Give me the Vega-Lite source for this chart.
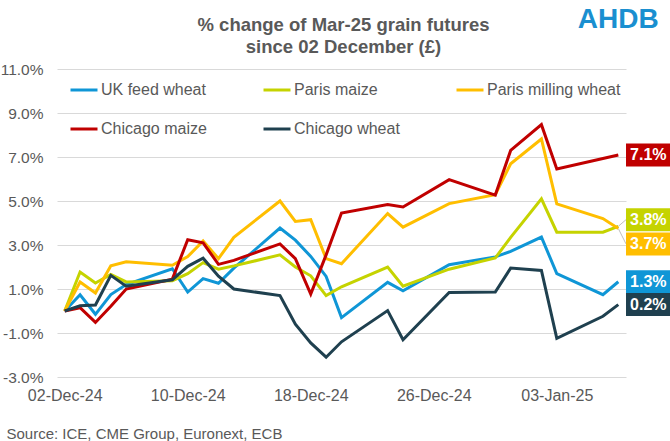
{
  "$schema": "https://vega.github.io/schema/vega-lite/v6.json",
  "width": 569,
  "height": 308,
  "autosize": {"type": "none"},
  "padding": {"left": 57, "top": 69, "right": 44, "bottom": 64},
  "background": "white",
  "config": {"view": {"stroke": null}, "font": "Liberation Sans"},
  "title": {
    "text": ["% change of Mar-25 grain futures", "since 02 December (£)"],
    "fontSize": 18.5,
    "fontWeight": "bold",
    "color": "#595959",
    "font": "Liberation Sans",
    "anchor": "middle",
    "offset": -50,
    "lineHeight": 22,
    "dx": 2
  },
  "datasets": {
    "prices": [
      {"date": "2024-12-02", "series": "UK feed wheat", "value": 0},
      {"date": "2024-12-03", "series": "UK feed wheat", "value": 0.74},
      {"date": "2024-12-04", "series": "UK feed wheat", "value": -0.15},
      {"date": "2024-12-05", "series": "UK feed wheat", "value": 0.75},
      {"date": "2024-12-06", "series": "UK feed wheat", "value": 1.2},
      {"date": "2024-12-09", "series": "UK feed wheat", "value": 1.92},
      {"date": "2024-12-10", "series": "UK feed wheat", "value": 0.86},
      {"date": "2024-12-11", "series": "UK feed wheat", "value": 1.47},
      {"date": "2024-12-12", "series": "UK feed wheat", "value": 1.26},
      {"date": "2024-12-13", "series": "UK feed wheat", "value": 1.95},
      {"date": "2024-12-16", "series": "UK feed wheat", "value": 3.77},
      {"date": "2024-12-17", "series": "UK feed wheat", "value": 3.22},
      {"date": "2024-12-18", "series": "UK feed wheat", "value": 2.48},
      {"date": "2024-12-19", "series": "UK feed wheat", "value": 1.57},
      {"date": "2024-12-20", "series": "UK feed wheat", "value": -0.3},
      {"date": "2024-12-23", "series": "UK feed wheat", "value": 1.3},
      {"date": "2024-12-24", "series": "UK feed wheat", "value": 0.92},
      {"date": "2024-12-27", "series": "UK feed wheat", "value": 2.1},
      {"date": "2024-12-30", "series": "UK feed wheat", "value": 2.46},
      {"date": "2024-12-31", "series": "UK feed wheat", "value": 2.71},
      {"date": "2025-01-02", "series": "UK feed wheat", "value": 3.36},
      {"date": "2025-01-03", "series": "UK feed wheat", "value": 1.7},
      {"date": "2025-01-06", "series": "UK feed wheat", "value": 0.74},
      {"date": "2025-01-07", "series": "UK feed wheat", "value": 1.33},
      {"date": "2024-12-02", "series": "Paris maize", "value": 0},
      {"date": "2024-12-03", "series": "Paris maize", "value": 1.77},
      {"date": "2024-12-04", "series": "Paris maize", "value": 1.27},
      {"date": "2024-12-05", "series": "Paris maize", "value": 1.66},
      {"date": "2024-12-06", "series": "Paris maize", "value": 1.32},
      {"date": "2024-12-09", "series": "Paris maize", "value": 1.38},
      {"date": "2024-12-10", "series": "Paris maize", "value": 1.7},
      {"date": "2024-12-11", "series": "Paris maize", "value": 2.2},
      {"date": "2024-12-12", "series": "Paris maize", "value": 1.9},
      {"date": "2024-12-13", "series": "Paris maize", "value": 2.05},
      {"date": "2024-12-16", "series": "Paris maize", "value": 2.55},
      {"date": "2024-12-17", "series": "Paris maize", "value": 2.0},
      {"date": "2024-12-18", "series": "Paris maize", "value": 1.6},
      {"date": "2024-12-19", "series": "Paris maize", "value": 0.7},
      {"date": "2024-12-20", "series": "Paris maize", "value": 1.1},
      {"date": "2024-12-23", "series": "Paris maize", "value": 2.0},
      {"date": "2024-12-24", "series": "Paris maize", "value": 1.13},
      {"date": "2024-12-27", "series": "Paris maize", "value": 1.9},
      {"date": "2024-12-30", "series": "Paris maize", "value": 2.41},
      {"date": "2024-12-31", "series": "Paris maize", "value": 3.35},
      {"date": "2025-01-02", "series": "Paris maize", "value": 5.1},
      {"date": "2025-01-03", "series": "Paris maize", "value": 3.58},
      {"date": "2025-01-06", "series": "Paris maize", "value": 3.58},
      {"date": "2025-01-07", "series": "Paris maize", "value": 3.85},
      {"date": "2024-12-02", "series": "Paris milling wheat", "value": 0},
      {"date": "2024-12-03", "series": "Paris milling wheat", "value": 1.32},
      {"date": "2024-12-04", "series": "Paris milling wheat", "value": 0.82},
      {"date": "2024-12-05", "series": "Paris milling wheat", "value": 2.06},
      {"date": "2024-12-06", "series": "Paris milling wheat", "value": 2.24},
      {"date": "2024-12-09", "series": "Paris milling wheat", "value": 2.08},
      {"date": "2024-12-10", "series": "Paris milling wheat", "value": 2.47},
      {"date": "2024-12-11", "series": "Paris milling wheat", "value": 3.18},
      {"date": "2024-12-12", "series": "Paris milling wheat", "value": 2.38},
      {"date": "2024-12-13", "series": "Paris milling wheat", "value": 3.35},
      {"date": "2024-12-16", "series": "Paris milling wheat", "value": 5.0},
      {"date": "2024-12-17", "series": "Paris milling wheat", "value": 4.07},
      {"date": "2024-12-18", "series": "Paris milling wheat", "value": 4.15},
      {"date": "2024-12-19", "series": "Paris milling wheat", "value": 2.38},
      {"date": "2024-12-20", "series": "Paris milling wheat", "value": 2.15},
      {"date": "2024-12-23", "series": "Paris milling wheat", "value": 4.43},
      {"date": "2024-12-24", "series": "Paris milling wheat", "value": 3.81},
      {"date": "2024-12-27", "series": "Paris milling wheat", "value": 4.88},
      {"date": "2024-12-30", "series": "Paris milling wheat", "value": 5.29},
      {"date": "2024-12-31", "series": "Paris milling wheat", "value": 6.69},
      {"date": "2025-01-02", "series": "Paris milling wheat", "value": 7.82},
      {"date": "2025-01-03", "series": "Paris milling wheat", "value": 4.87},
      {"date": "2025-01-06", "series": "Paris milling wheat", "value": 4.2},
      {"date": "2025-01-07", "series": "Paris milling wheat", "value": 3.75},
      {"date": "2024-12-02", "series": "Chicago maize", "value": 0},
      {"date": "2024-12-03", "series": "Chicago maize", "value": 0.15},
      {"date": "2024-12-04", "series": "Chicago maize", "value": -0.52},
      {"date": "2024-12-05", "series": "Chicago maize", "value": 0.22},
      {"date": "2024-12-06", "series": "Chicago maize", "value": 1.0},
      {"date": "2024-12-09", "series": "Chicago maize", "value": 1.45},
      {"date": "2024-12-10", "series": "Chicago maize", "value": 3.24},
      {"date": "2024-12-11", "series": "Chicago maize", "value": 3.1},
      {"date": "2024-12-12", "series": "Chicago maize", "value": 2.12},
      {"date": "2024-12-13", "series": "Chicago maize", "value": 2.3},
      {"date": "2024-12-16", "series": "Chicago maize", "value": 3.05},
      {"date": "2024-12-17", "series": "Chicago maize", "value": 2.38},
      {"date": "2024-12-18", "series": "Chicago maize", "value": 0.77},
      {"date": "2024-12-19", "series": "Chicago maize", "value": 2.55},
      {"date": "2024-12-20", "series": "Chicago maize", "value": 4.45},
      {"date": "2024-12-23", "series": "Chicago maize", "value": 4.84},
      {"date": "2024-12-24", "series": "Chicago maize", "value": 4.73},
      {"date": "2024-12-27", "series": "Chicago maize", "value": 5.97},
      {"date": "2024-12-30", "series": "Chicago maize", "value": 5.27},
      {"date": "2024-12-31", "series": "Chicago maize", "value": 7.3},
      {"date": "2025-01-02", "series": "Chicago maize", "value": 8.47},
      {"date": "2025-01-03", "series": "Chicago maize", "value": 6.46},
      {"date": "2025-01-06", "series": "Chicago maize", "value": 6.93},
      {"date": "2025-01-07", "series": "Chicago maize", "value": 7.09},
      {"date": "2024-12-02", "series": "Chicago wheat", "value": 0},
      {"date": "2024-12-03", "series": "Chicago wheat", "value": 0.24},
      {"date": "2024-12-04", "series": "Chicago wheat", "value": 0.27},
      {"date": "2024-12-05", "series": "Chicago wheat", "value": 1.62},
      {"date": "2024-12-06", "series": "Chicago wheat", "value": 1.13},
      {"date": "2024-12-09", "series": "Chicago wheat", "value": 1.42},
      {"date": "2024-12-10", "series": "Chicago wheat", "value": 2.03},
      {"date": "2024-12-11", "series": "Chicago wheat", "value": 2.4},
      {"date": "2024-12-12", "series": "Chicago wheat", "value": 1.58},
      {"date": "2024-12-13", "series": "Chicago wheat", "value": 1.0},
      {"date": "2024-12-16", "series": "Chicago wheat", "value": 0.7},
      {"date": "2024-12-17", "series": "Chicago wheat", "value": -0.6},
      {"date": "2024-12-18", "series": "Chicago wheat", "value": -1.45},
      {"date": "2024-12-19", "series": "Chicago wheat", "value": -2.1},
      {"date": "2024-12-20", "series": "Chicago wheat", "value": -1.4},
      {"date": "2024-12-23", "series": "Chicago wheat", "value": 0.02},
      {"date": "2024-12-24", "series": "Chicago wheat", "value": -1.31},
      {"date": "2024-12-27", "series": "Chicago wheat", "value": 0.84},
      {"date": "2024-12-30", "series": "Chicago wheat", "value": 0.86},
      {"date": "2024-12-31", "series": "Chicago wheat", "value": 1.95},
      {"date": "2025-01-02", "series": "Chicago wheat", "value": 1.84},
      {"date": "2025-01-03", "series": "Chicago wheat", "value": -1.24},
      {"date": "2025-01-06", "series": "Chicago wheat", "value": -0.24},
      {"date": "2025-01-07", "series": "Chicago wheat", "value": 0.29}
    ],
    "ends": [
      {"date": "2025-01-07", "series": "Chicago maize", "value": 7.09, "label": "7.1%"},
      {"date": "2025-01-07", "series": "Paris maize", "value": 3.85, "label": "3.8%"},
      {"date": "2025-01-07", "series": "Paris milling wheat", "value": 3.75, "label": "3.7%"},
      {"date": "2025-01-07", "series": "UK feed wheat", "value": 1.33, "label": "1.3%"},
      {"date": "2025-01-07", "series": "Chicago wheat", "value": 0.29, "label": "0.2%"}
    ]
  },
  "layer": [
    {
      "data": {"name": "prices"},
      "mark": {"type": "line", "strokeWidth": 3},
      "encoding": {
        "x": {
          "field": "date",
          "type": "temporal",
          "scale": {
            "type": "utc",
            "domain": [
              {"year": 2024, "month": 12, "date": 1, "hours": 12, "utc": true},
              {"year": 2025, "month": 1, "date": 7, "hours": 12, "utc": true}
            ]
          },
          "axis": {
            "values": [
              {"year": 2024, "month": 12, "date": 2, "utc": true},
              {"year": 2024, "month": 12, "date": 10, "utc": true},
              {"year": 2024, "month": 12, "date": 18, "utc": true},
              {"year": 2024, "month": 12, "date": 26, "utc": true},
              {"year": 2025, "month": 1, "date": 3, "utc": true}
            ],
            "format": "%d-%b-%y",
            "grid": false,
            "domain": false,
            "ticks": false,
            "labelPadding": 10,
            "labelFontSize": 16,
            "labelColor": "#595959",
            "labelFont": "Liberation Sans",
            "title": "Source: ICE, CME Group, Euronext, ECB",
            "titleAnchor": "start",
            "titleAlign": "left",
            "titleX": -51,
            "titleY": 61,
            "titleBaseline": "alphabetic",
            "titleFontSize": 15,
            "titleFontWeight": "normal",
            "titleColor": "#595959",
            "titleFont": "Liberation Sans"
          }
        },
        "y": {
          "field": "value",
          "type": "quantitative",
          "scale": {"domain": [-3, 11], "nice": false, "zero": false},
          "axis": {
            "values": [-3, -1, 1, 3, 5, 7, 9, 11],
            "labelExpr": "(datum.value < 0 ? '-' : '') + format(abs(datum.value), '.1f') + '%'",
            "grid": true,
            "gridColor": "#d9d9d9",
            "gridWidth": 1,
            "domain": false,
            "ticks": false,
            "labelPadding": 14,
            "labelFontSize": 15.5,
            "labelColor": "#595959",
            "labelFont": "Liberation Sans",
            "title": null
          }
        },
        "color": {
          "field": "series",
          "type": "nominal",
          "scale": {
            "domain": ["UK feed wheat", "Paris maize", "Paris milling wheat", "Chicago maize", "Chicago wheat"],
            "range": ["#0f96d6", "#c5d300", "#ffbe00", "#c00000", "#1f404f"]
          },
          "legend": {
            "title": null,
            "orient": "none",
            "legendX": 12,
            "legendY": 6,
            "direction": "horizontal",
            "columns": 3,
            "gridAlign": "all",
            "columnPadding": 22,
            "rowPadding": 16,
            "symbolType": "stroke",
            "symbolSize": 729,
            "symbolStrokeWidth": 3,
            "labelFontSize": 16,
            "labelColor": "#595959",
            "labelFont": "Liberation Sans",
            "labelOffset": 2,
            "padding": 0
          }
        }
      }
    },
    {
      "data": {"name": "ends"},
      "transform": [{"filter": "datum.series === 'Paris maize'"}],
      "mark": {"type": "rule", "color": "#bfbfbf", "strokeWidth": 1, "x2Offset": 7.7, "y2Offset": -6.6},
      "encoding": {
        "x": {"field": "date", "type": "temporal"},
        "x2": {"field": "date"},
        "y": {"field": "value", "type": "quantitative"},
        "y2": {"field": "value"}
      }
    },
    {
      "data": {"name": "ends"},
      "transform": [{"filter": "datum.series === 'Paris milling wheat'"}],
      "mark": {"type": "rule", "color": "#bfbfbf", "strokeWidth": 1, "x2Offset": 7.7, "y2Offset": 15.4},
      "encoding": {
        "x": {"field": "date", "type": "temporal"},
        "x2": {"field": "date"},
        "y": {"field": "value", "type": "quantitative"},
        "y2": {"field": "value"}
      }
    },
    {
      "data": {"name": "ends"},
      "transform": [{"filter": "datum.series !== 'Paris maize' && datum.series !== 'Paris milling wheat'"}],
      "mark": {"type": "rect", "xOffset": 7.7, "x2Offset": 56, "yOffset": -11.5, "y2Offset": 11.5},
      "encoding": {
        "x": {"field": "date", "type": "temporal"},
        "x2": {"field": "date"},
        "y": {"field": "value", "type": "quantitative"},
        "y2": {"field": "value"},
        "fill": {
          "field": "series",
          "type": "nominal",
          "legend": null,
          "scale": {
            "domain": ["UK feed wheat", "Paris maize", "Paris milling wheat", "Chicago maize", "Chicago wheat"],
            "range": ["#0f96d6", "#c5d300", "#ffbe00", "#c00000", "#1f404f"]
          }
        }
      }
    },
    {
      "data": {"name": "ends"},
      "transform": [{"filter": "datum.series === 'Paris maize'"}],
      "mark": {"type": "rect", "xOffset": 7.7, "x2Offset": 56, "yOffset": -18.1, "y2Offset": 4.9},
      "encoding": {
        "x": {"field": "date", "type": "temporal"},
        "x2": {"field": "date"},
        "y": {"field": "value", "type": "quantitative"},
        "y2": {"field": "value"},
        "fill": {
          "field": "series",
          "type": "nominal",
          "legend": null,
          "scale": {
            "domain": ["UK feed wheat", "Paris maize", "Paris milling wheat", "Chicago maize", "Chicago wheat"],
            "range": ["#0f96d6", "#c5d300", "#ffbe00", "#c00000", "#1f404f"]
          }
        }
      }
    },
    {
      "data": {"name": "ends"},
      "transform": [{"filter": "datum.series === 'Paris milling wheat'"}],
      "mark": {"type": "rect", "xOffset": 7.7, "x2Offset": 56, "yOffset": 3.9, "y2Offset": 26.9},
      "encoding": {
        "x": {"field": "date", "type": "temporal"},
        "x2": {"field": "date"},
        "y": {"field": "value", "type": "quantitative"},
        "y2": {"field": "value"},
        "fill": {
          "field": "series",
          "type": "nominal",
          "legend": null,
          "scale": {
            "domain": ["UK feed wheat", "Paris maize", "Paris milling wheat", "Chicago maize", "Chicago wheat"],
            "range": ["#0f96d6", "#c5d300", "#ffbe00", "#c00000", "#1f404f"]
          }
        }
      }
    },
    {
      "data": {"name": "ends"},
      "transform": [{"filter": "datum.series !== 'Paris maize' && datum.series !== 'Paris milling wheat'"}],
      "mark": {"type": "text", "dx": 30, "dy": 0, "align": "center", "baseline": "middle", "fontSize": 16, "fontWeight": "bold", "fill": "white", "font": "Liberation Sans"},
      "encoding": {
        "x": {"field": "date", "type": "temporal"},
        "y": {"field": "value", "type": "quantitative"},
        "text": {"field": "label"}
      }
    },
    {
      "data": {"name": "ends"},
      "transform": [{"filter": "datum.series === 'Paris maize'"}],
      "mark": {"type": "text", "dx": 30, "dy": -6.6, "align": "center", "baseline": "middle", "fontSize": 16, "fontWeight": "bold", "fill": "white", "font": "Liberation Sans"},
      "encoding": {
        "x": {"field": "date", "type": "temporal"},
        "y": {"field": "value", "type": "quantitative"},
        "text": {"field": "label"}
      }
    },
    {
      "data": {"name": "ends"},
      "transform": [{"filter": "datum.series === 'Paris milling wheat'"}],
      "mark": {"type": "text", "dx": 30, "dy": 15.4, "align": "center", "baseline": "middle", "fontSize": 16, "fontWeight": "bold", "fill": "white", "font": "Liberation Sans"},
      "encoding": {
        "x": {"field": "date", "type": "temporal"},
        "y": {"field": "value", "type": "quantitative"},
        "text": {"field": "label"}
      }
    },
    {
      "data": {"values": [{"logo": "AHDB"}]},
      "mark": {"type": "text", "align": "center", "baseline": "alphabetic", "fontSize": 28, "fontWeight": "bold", "fill": "#1a8fd0", "font": "Liberation Sans"},
      "encoding": {
        "x": {"datum": {"year": 2025, "month": 1, "date": 7, "utc": true}, "type": "temporal"},
        "y": {"datum": 12.86, "type": "quantitative"},
        "text": {"field": "logo"}
      }
    }
  ]
}
